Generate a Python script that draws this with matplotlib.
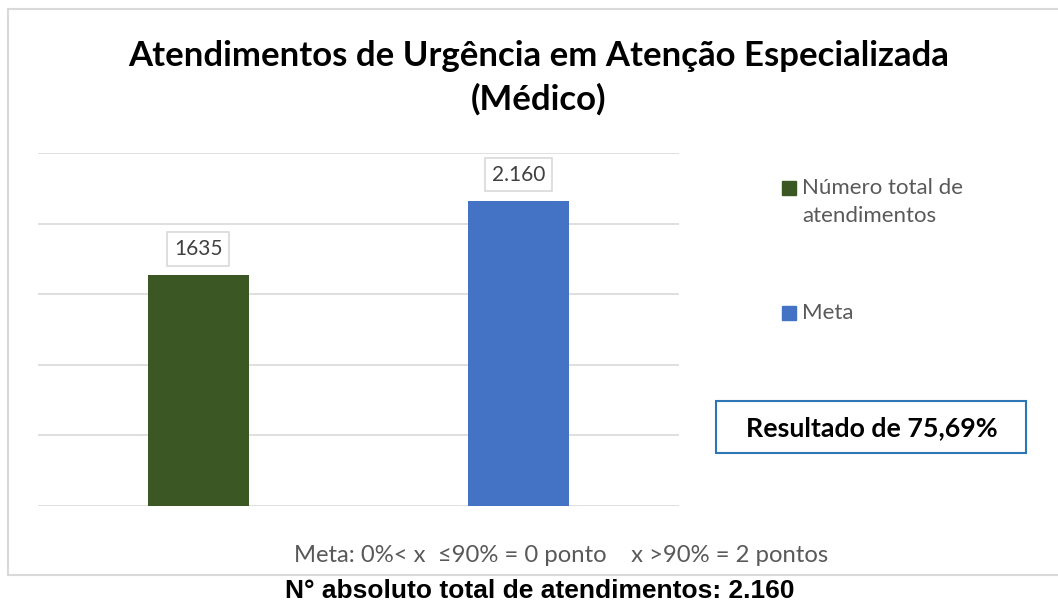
import numpy as np
import matplotlib.pyplot as plt
from matplotlib.patches import Rectangle

# data
series = ['Número total de\natendimentos', 'Meta']
values = [1635, 2160]
value_labels = ['1635', '2.160']
colors = ['#3B5723', '#4472C4']
yticks = [0, 500, 1000, 1500, 2000, 2500]

title = 'Atendimentos de Urgência em Atenção Especializada\n(Médico)'
result_text = 'Resultado de 75,69%'
footer_text = 'Meta: 0%< x  \u226490% = 0 ponto    x >90% = 2 pontos'
bottom_text = 'N° absoluto total de atendimentos: 2.160'

W, H = 1058, 603
fig = plt.figure(figsize=(W / 100, H / 100), dpi=100)

def fx(px):
    return px / W

def fy(py):
    return 1 - py / H

# outer chart frame (right edge runs off the picture)
frame = dict(color='#D9D9D9', lw=1.5, transform=fig.transFigure)
fig.add_artist(plt.Line2D([fx(8), fx(8)], [fy(9), fy(575)], **frame))
fig.add_artist(plt.Line2D([fx(8), 1], [fy(9), fy(9)], **frame))
fig.add_artist(plt.Line2D([fx(8), 1], [fy(575), fy(575)], **frame))

ax = fig.add_axes([fx(38), fy(506), fx(679) - fx(38), fy(153) - fy(506)])
x = np.arange(len(values))
bars = ax.bar(x, values, width=0.315, color=colors, zorder=3)
ax.set_xlim(-0.5, 1.5)
ax.set_ylim(yticks[0], yticks[-1])
ax.set_yticks(yticks)
ax.grid(axis='y', color='#D9D9D9', lw=1.2, zorder=0)
ax.tick_params(left=False, bottom=False, labelleft=False, labelbottom=False)
for s in ax.spines.values():
    s.set_visible(False)

for xi, v, lab in zip(x, values, value_labels):
    ax.annotate(lab, (xi, v), xytext=(0, 19), textcoords='offset points',
                ha='center', va='center', fontsize=15, color='#404040',
                family=['Lato', 'DejaVu Sans'],
                bbox=dict(boxstyle='square,pad=0.33', fc='white',
                          ec='#D9D9D9', lw=1.2))

fig.text(fx(539), fy(78), title, ha='center', va='center', fontsize=25,
         fontweight='bold', family=['Lato', 'DejaVu Sans'], linespacing=1.42)

# legend
leg_y = [188, 313]
for name, c, ly in zip(series, colors, leg_y):
    fig.add_artist(Rectangle((fx(782), fy(ly + 7)), fx(14), 14 / H,
                             color=c, transform=fig.transFigure))
    fig.text(fx(802), fy(ly - 10), name, ha='left', va='top', fontsize=16,
             color='#595959', family=['Lato', 'DejaVu Sans'], linespacing=1.5)

# result box
fig.add_artist(Rectangle((fx(716), fy(453)), fx(310), 52 / H, fill=False,
                         ec='#2E75B6', lw=1.5, transform=fig.transFigure))
fig.text(fx(872), fy(428), result_text, ha='center', va='center', fontsize=19.3,
         fontweight='bold', family=['Lato', 'DejaVu Sans'])

fig.text(fx(561), fy(556), footer_text, ha='center', va='center', fontsize=17.2,
         color='#595959', family=['Lato', 'DejaVu Sans'])
fig.text(fx(540), fy(591), bottom_text, ha='center', va='center', fontsize=19,
         fontweight='bold', family=['Liberation Sans', 'DejaVu Sans'])

fig.savefig('out.png', dpi=100, facecolor='white')
